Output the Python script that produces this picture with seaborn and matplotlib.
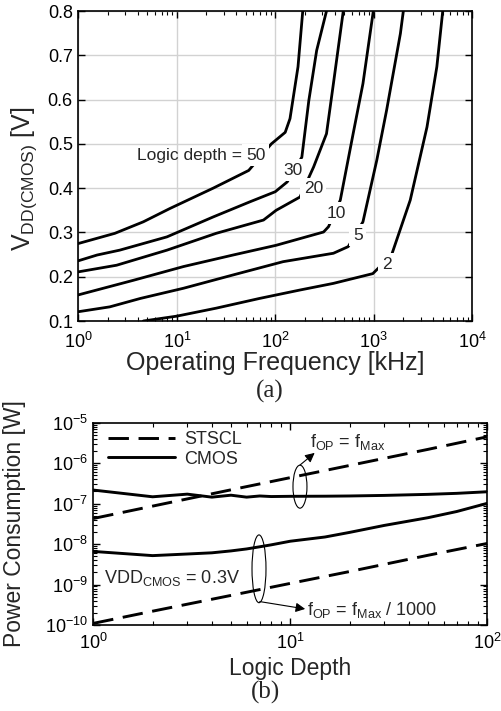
import numpy as np
import pandas as pd
import matplotlib
matplotlib.use("Agg")
import matplotlib.pyplot as plt
import seaborn as sns
from matplotlib.patches import Ellipse
from matplotlib.lines import Line2D
from matplotlib.ticker import LogLocator, NullFormatter

# ---------------- (a) VDD vs operating frequency, one curve per logic depth
freq_50 = [1, 2.35, 4.57, 8.5, 23.4, 53.7, 91.2, 126, 141, 170, 190]
vdd_50 = [0.275, 0.298, 0.324, 0.354, 0.40, 0.44, 0.50, 0.526, 0.557, 0.674, 0.80]
freq_30 = [1, 1.55, 2.63, 7.94, 23.4, 55, 100, 132, 186, 219, 263, 331]
vdd_30 = [0.236, 0.249, 0.26, 0.29, 0.335, 0.369, 0.392, 0.414, 0.47, 0.598, 0.711, 0.80]
freq_20 = [1, 2.45, 7.94, 25.1, 75.9, 102, 178, 245, 331, 389, 490]
vdd_20 = [0.211, 0.226, 0.26, 0.298, 0.328, 0.35, 0.38, 0.448, 0.523, 0.636, 0.80]
freq_10 = [1, 3.63, 11.7, 37.2, 102, 309, 347, 457, 617, 776, 989]
vdd_10 = [0.159, 0.192, 0.223, 0.249, 0.271, 0.301, 0.313, 0.373, 0.523, 0.636, 0.80]
freq_5 = [1, 2.09, 4.27, 11.7, 37.2, 120, 389, 550, 776, 1072, 1349, 1862, 1995]
vdd_5 = [0.121, 0.132, 0.151, 0.174, 0.204, 0.234, 0.253, 0.268, 0.324, 0.463, 0.576, 0.749, 0.80]
freq_2 = [4.57, 10, 25.1, 69.2, 178, 389, 977, 1514, 2344, 3467, 4365, 5012]
vdd_2 = [0.10, 0.111, 0.129, 0.151, 0.17, 0.185, 0.207, 0.249, 0.373, 0.538, 0.674, 0.80]

depth_labels = ["50", "30", "20", "10", "5", "2"]
label_freq = [63, 150, 243, 420, 686, 1349]
label_vdd = [0.474, 0.44, 0.399, 0.343, 0.294, 0.228]

# ---------------- (b) power vs logic depth
stscl_depth = [1, 2, 5, 10, 20, 50, 100]
stscl_fmax = [4.3e-8, 8.7e-8, 2.2e-7, 4.4e-7, 8.8e-7, 2.2e-6, 4.5e-6]
stscl_fmax1000 = [1.1e-10, 2.2e-10, 5.4e-10, 1.07e-9, 2.1e-9, 5.3e-9, 1.04e-8]
cmos_depth = [1, 2, 3, 4, 5, 6, 7, 8, 10, 15, 20, 30, 50, 70, 100]
cmos_fmax = [2.17e-7, 1.48e-7, 1.72e-7, 1.45e-7, 1.62e-7, 1.45e-7, 1.55e-7, 1.5e-7,
             1.52e-7, 1.53e-7, 1.55e-7, 1.6e-7, 1.7e-7, 1.8e-7, 1.97e-7]
cmos_fmax1000 = [6.6e-9, 5.2e-9, 5.7e-9, 6.1e-9, 6.8e-9, 7.6e-9, 8.6e-9, 9.6e-9,
                 1.18e-8, 1.5e-8, 1.95e-8, 2.9e-8, 4.5e-8, 6.4e-8, 1.02e-7]

sns.set_theme(style="ticks")
plt.rcParams["font.family"] = ["Liberation Sans", "DejaVu Sans"]
plt.rcParams["mathtext.default"] = "regular"
plt.rcParams["axes.linewidth"] = 1.2
plt.rcParams["axes.edgecolor"] = "black"
plt.rcParams["xtick.color"] = "black"
plt.rcParams["ytick.color"] = "black"

fig = plt.figure(figsize=(5.01, 7.11), dpi=100)

# ---------- top axes
ax1 = fig.add_axes([0.1563, 0.5485, 0.7864, 0.436])
curves = [(freq_50, vdd_50), (freq_30, vdd_30), (freq_20, vdd_20),
          (freq_10, vdd_10), (freq_5, vdd_5), (freq_2, vdd_2)]
rows = []
for lab, (f, v) in zip(depth_labels, curves):
    for fi, vi in zip(f, v):
        rows.append({"freq": fi, "vdd": vi, "depth": lab})
df_a = pd.DataFrame(rows)
sns.lineplot(data=df_a, x="freq", y="vdd", units="depth", estimator=None, sort=False,
             color="black", lw=2.0, ax=ax1, legend=False)
ax1.set_xscale("log")
ax1.set_xlim(1, 1e4)
ax1.set_ylim(0.1, 0.8)
ax1.set_yticks([0.1, 0.2, 0.3, 0.4, 0.5, 0.6, 0.7, 0.8])
ax1.set_yticklabels(["0.1", "0.2", "0.3", "0.4", "0.5", "0.6", "0.7", "0.8"])
ax1.grid(True, which="major", color="#d2d2d2", lw=1.0)
ax1.set_axisbelow(True)
ax1.tick_params(which="both", direction="in", top=True, right=True, labelsize=13, pad=4)
ax1.tick_params(axis="x", which="both", pad=8)
ax1.tick_params(which="major", length=5, width=1.0)
ax1.tick_params(which="minor", length=3, width=0.8)
ax1.set_xlabel("Operating Frequency [kHz]", fontsize=18)
ax1.set_ylabel("V$_{DD(CMOS)}$ [V]", fontsize=18)
ax1.xaxis.set_label_coords(0.5, -0.098)
ax1.yaxis.set_label_coords(-0.1, 0.46)

for i, (lab, fx, vy) in enumerate(zip(depth_labels, label_freq, label_vdd)):
    ax1.text(fx, vy, lab, fontsize=12.5, ha="center", va="center",
             bbox=dict(facecolor="white", edgecolor="none", pad=2.5), zorder=5)
ax1.text(45.5, 0.474, "Logic depth =", fontsize=12.5, ha="right", va="center", zorder=5)

fig.text(0.539, 0.449, "(a)", fontsize=18, family="Liberation Serif", ha="center", va="center")

# ---------- bottom axes
ax2 = fig.add_axes([0.1862, 0.1209, 0.7864, 0.2845])
rows = []
for d, p in zip(stscl_depth, stscl_fmax):
    rows.append({"depth": d, "power": p, "family": "STSCL", "cond": "STSCL fmax"})
for d, p in zip(stscl_depth, stscl_fmax1000):
    rows.append({"depth": d, "power": p, "family": "STSCL", "cond": "STSCL fmax/1000"})
for d, p in zip(cmos_depth, cmos_fmax):
    rows.append({"depth": d, "power": p, "family": "CMOS", "cond": "CMOS fmax"})
for d, p in zip(cmos_depth, cmos_fmax1000):
    rows.append({"depth": d, "power": p, "family": "CMOS", "cond": "CMOS fmax/1000"})
df_b = pd.DataFrame(rows)
dash_pat = (7.0, 3.3)
sns.lineplot(data=df_b, x="depth", y="power", style="family", units="cond",
             estimator=None, color="black", lw=2.1,
             dashes={"STSCL": dash_pat, "CMOS": ""}, ax=ax2, legend=False)
ax2.set_xscale("log")
ax2.set_yscale("log")
ax2.set_xlim(1, 100)
ax2.set_ylim(1e-10, 1e-5)
ax2.yaxis.set_major_locator(LogLocator(base=10, numticks=20))
ax2.yaxis.set_minor_locator(LogLocator(base=10, subs=np.arange(2, 10), numticks=200))
ax2.yaxis.set_minor_formatter(NullFormatter())
ax2.tick_params(which="both", direction="in", top=True, right=True, labelsize=13, pad=4)
ax2.tick_params(axis="x", which="both", pad=6)
ax2.tick_params(which="major", length=5, width=1.0)
ax2.tick_params(which="minor", length=3, width=0.8)
ax2.set_xlabel("Logic Depth", fontsize=16.5)
ax2.set_ylabel("Power Consumption [W]", fontsize=16.5)
ax2.xaxis.set_label_coords(0.5, -0.16)
ax2.yaxis.set_label_coords(-0.17, 0.5)

handles = [Line2D([], [], color="black", lw=2.1, dashes=dash_pat),
           Line2D([], [], color="black", lw=2.1)]
ax2.legend(handles, ["STSCL", "CMOS"], loc="upper left", bbox_to_anchor=(0.038, 0.96),
           frameon=False, fontsize=13, handlelength=3.7, handletextpad=0.5,
           labelspacing=0.15, borderpad=0, borderaxespad=0)

ax2.add_patch(Ellipse((0.5246, 0.684), 0.0355, 0.2126, transform=ax2.transAxes,
                      fill=False, edgecolor="black", lw=0.8, zorder=6))
ax2.add_patch(Ellipse((0.4206, 0.278), 0.0355, 0.335, transform=ax2.transAxes,
                      fill=False, edgecolor="black", lw=0.8, zorder=6))
ax2.annotate("", xy=(13.3, 1.8e-6), xytext=(11.2, 9.0e-7),
             arrowprops=dict(arrowstyle="-|>", color="black", lw=0.8,
                             mutation_scale=14, shrinkA=0, shrinkB=0))
ax2.annotate("", xy=(11.9, 2.5e-10), xytext=(7.0, 3.8e-10),
             arrowprops=dict(arrowstyle="-|>", color="black", lw=0.8,
                             mutation_scale=14, shrinkA=0, shrinkB=0))
ax2.text(12.6, 2.5e-6, "f$_{OP}$ = f$_{Max}$", fontsize=13, ha="left", va="baseline")
ax2.text(12.1, 1.77e-10, "f$_{OP}$ = f$_{Max}$ / 1000", fontsize=13, ha="left", va="baseline")
ax2.text(1.135, 1.07e-9, "VDD$_{CMOS}$ = 0.3V", fontsize=13, ha="left", va="baseline")

fig.text(0.529, 0.026, "(b)", fontsize=18, family="Liberation Serif", ha="center", va="center")

fig.savefig("out.png", dpi=100)
